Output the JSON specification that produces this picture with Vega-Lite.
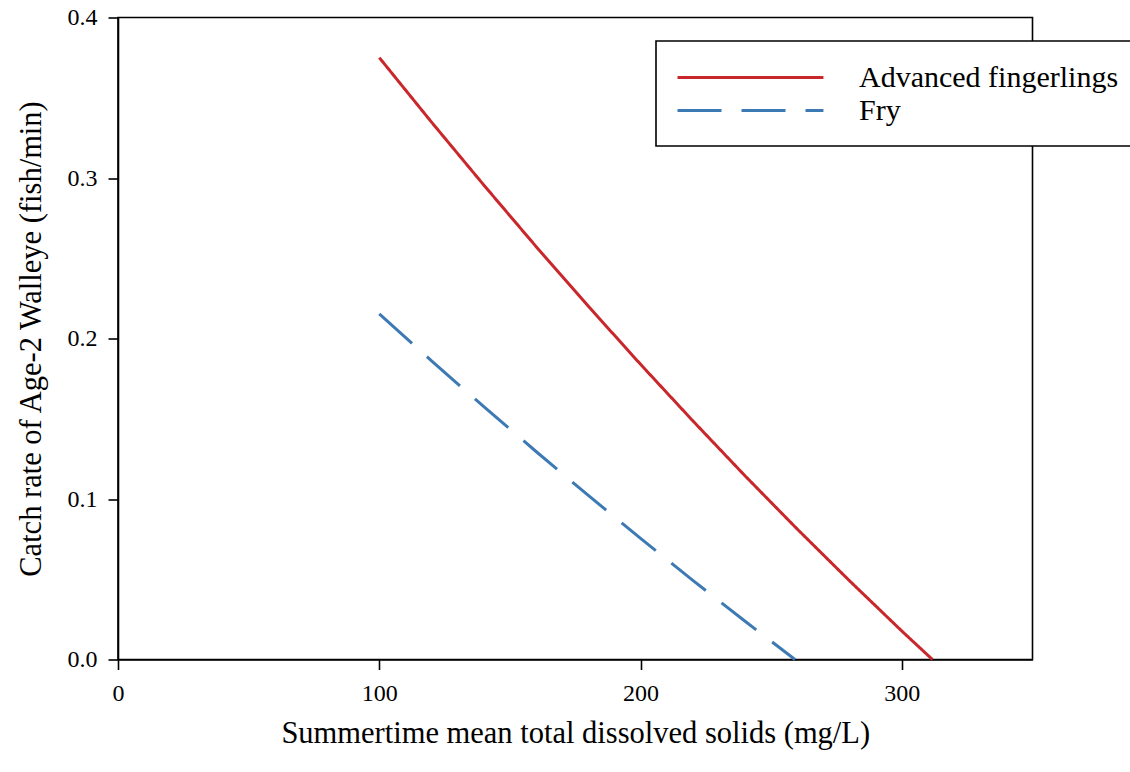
{
  "$schema": "https://vega.github.io/schema/vega-lite/v6.json",
  "width": 914.5,
  "height": 642,
  "autosize": "none",
  "padding": {"left": 118, "top": 17.5, "right": 97.5, "bottom": 112.5},
  "background": "white",
  "config": {
    "font": "'Liberation Serif', 'Times New Roman', Times, serif",
    "view": {"stroke": "black", "strokeWidth": 1.6},
    "axis": {
      "grid": false,
      "domainColor": "black",
      "domainWidth": 1.6,
      "tickColor": "black",
      "tickWidth": 1.6,
      "tickSize": 10,
      "labelFont": "'Liberation Serif', 'Times New Roman', Times, serif",
      "labelFontSize": 24,
      "labelColor": "black",
      "labelFlush": false,
      "titleFont": "'Liberation Serif', 'Times New Roman', Times, serif",
      "titleFontSize": 30.5,
      "titleFontWeight": "normal",
      "titleColor": "black"
    }
  },
  "data": {
    "values": [
      {"series": "Advanced fingerlings", "tds": 100, "rate": 0.375},
      {"series": "Advanced fingerlings", "tds": 120, "rate": 0.3348},
      {"series": "Advanced fingerlings", "tds": 140, "rate": 0.2956},
      {"series": "Advanced fingerlings", "tds": 160, "rate": 0.2573},
      {"series": "Advanced fingerlings", "tds": 180, "rate": 0.2201},
      {"series": "Advanced fingerlings", "tds": 200, "rate": 0.1839},
      {"series": "Advanced fingerlings", "tds": 220, "rate": 0.1487},
      {"series": "Advanced fingerlings", "tds": 240, "rate": 0.1144},
      {"series": "Advanced fingerlings", "tds": 260, "rate": 0.0812},
      {"series": "Advanced fingerlings", "tds": 280, "rate": 0.049},
      {"series": "Advanced fingerlings", "tds": 300, "rate": 0.0177},
      {"series": "Advanced fingerlings", "tds": 311.7, "rate": 0},
      {"series": "Fry", "tds": 100, "rate": 0.2153},
      {"series": "Fry", "tds": 120, "rate": 0.1861},
      {"series": "Fry", "tds": 140, "rate": 0.1575},
      {"series": "Fry", "tds": 160, "rate": 0.1296},
      {"series": "Fry", "tds": 180, "rate": 0.1022},
      {"series": "Fry", "tds": 200, "rate": 0.0755},
      {"series": "Fry", "tds": 220, "rate": 0.0493},
      {"series": "Fry", "tds": 240, "rate": 0.0238},
      {"series": "Fry", "tds": 259.1, "rate": 0}
    ]
  },
  "mark": {"type": "line", "strokeWidth": 3, "strokeCap": "butt"},
  "encoding": {
    "x": {
      "field": "tds",
      "type": "quantitative",
      "scale": {"domain": [0, 350], "nice": false, "zero": false},
      "axis": {
        "values": [0, 100, 200, 300],
        "title": "Summertime mean total dissolved solids (mg/L)",
        "labelPadding": 12,
        "titlePadding": 13
      }
    },
    "y": {
      "field": "rate",
      "type": "quantitative",
      "scale": {"domain": [0, 0.4], "nice": false},
      "axis": {
        "values": [0, 0.1, 0.2, 0.3, 0.4],
        "format": ".1f",
        "title": "Catch rate of Age-2 Walleye (fish/min)",
        "labelPadding": 11,
        "titlePadding": 21
      }
    },
    "color": {
      "field": "series",
      "type": "nominal",
      "scale": {"domain": ["Advanced fingerlings", "Fry"], "range": ["#c8282b", "#3d7ab3"]},
      "legend": {
        "orient": "none",
        "legendX": 538,
        "legendY": 23.5,
        "title": null,
        "symbolType": "M-1,0H8.73",
        "symbolSize": 900,
        "symbolStrokeWidth": 3,
        "labelFont": "'Liberation Serif', 'Times New Roman', Times, serif",
        "labelFontSize": 30,
        "labelColor": "black",
        "labelOffset": 150,
        "labelLimit": 0,
        "rowPadding": 1,
        "padding": 20,
        "strokeColor": "black",
        "fillColor": "white",
        "encode": {
          "legend": {"update": {"strokeWidth": {"value": 1.6}}},
          "symbols": {"update": {"strokeDash": {"signal": "datum.value === 'Fry' ? [35, 15] : [1, 0]"}}}
        }
      }
    },
    "strokeDash": {
      "field": "series",
      "type": "nominal",
      "scale": {"domain": ["Advanced fingerlings", "Fry"], "range": [[1, 0], [44, 20]]},
      "legend": null
    }
  }
}
